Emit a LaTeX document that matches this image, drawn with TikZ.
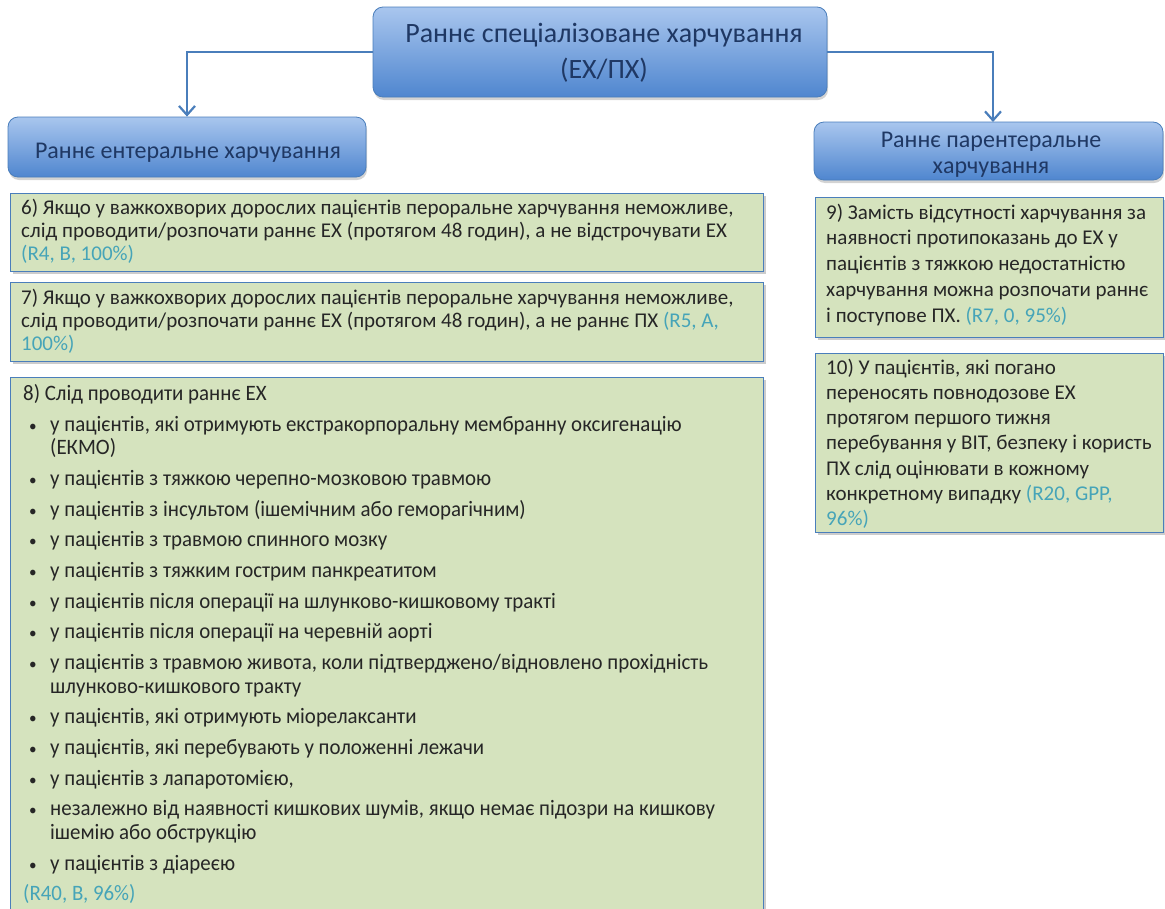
\documentclass[tikz,border=0pt]{standalone}
\usepackage{fontspec}
\setmainfont{Carlito}
\newfontfamily\narrowfont[FakeStretch=0.95]{Carlito}
\usetikzlibrary{arrows.meta,shadows}

\definecolor{hdrtop}{HTML}{A9C6EE}
\definecolor{hdrbot}{HTML}{4F86CF}
\definecolor{hdredge}{HTML}{4A7EBB}
\definecolor{hdrtext}{HTML}{1F3864}
\definecolor{boxfill}{HTML}{D5E3BE}
\definecolor{boxedge}{HTML}{4A7EBB}
\definecolor{bodytext}{HTML}{262626}
\definecolor{citecol}{HTML}{46A4B8}
\definecolor{linkcol}{HTML}{4A7EBB}

\newcommand{\refnote}[1]{\textcolor{citecol}{#1}}
\newcommand{\bitem}[1]{\makebox[27pt][l]{\hspace*{6pt}{\fontsize{16}{16}\selectfont•}}#1}
\newcommand{\bcont}[1]{\hspace*{27pt}#1}

\tikzset{
  hdrbox/.style={draw=hdredge, line width=0.8pt, rounded corners=10pt,
    top color=hdrtop, bottom color=hdrbot, text=hdrtext, align=center,
    drop shadow={opacity=0.35, shadow xshift=1pt, shadow yshift=-3pt}},
  greenbox/.style={draw=boxedge, line width=1.4pt, fill=boxfill,
    drop shadow={opacity=0.4, shadow xshift=2pt, shadow yshift=-2pt},
    anchor=north west, inner sep=0pt},
  boxtext/.style={anchor=base west, inner sep=0pt, text=bodytext},
  link/.style={draw=linkcol, line width=2.6pt,
    -{Straight Barb[length=9pt,width=16pt,line width=2.2pt]}}
}

\begin{document}
\begin{tikzpicture}[x=1pt,y=-1pt]
\useasboundingbox (0,0) rectangle (1165,908);

% header row
\node[hdrbox, minimum width=454pt, minimum height=90pt] (top) at (600,52) {};
\node[text=hdrtext, align=center, font=\fontsize{28}{36}\selectfont, inner sep=0pt]
  (toptext) at (604,53) {Раннє спеціалізоване харчування\\(ЕХ/ПХ)};
\node[hdrbox, minimum width=358pt, minimum height=60pt] (enteral) at (187,147) {};
\node[text=hdrtext, font=\fontsize{24}{28}\selectfont, inner sep=0pt]
  (enteraltext) at (188,153) {Раннє ентеральне харчування};
\node[hdrbox, minimum width=349pt, minimum height=58pt] (parent) at (988.5,151) {};
\node[text=hdrtext, align=center, font=\fontsize{24}{26}\selectfont, inner sep=0pt]
  (parenttext) at (991,155) {Раннє парентеральне\\харчування};

\coordinate (parentin) at (993,122);
\draw[link] (top.west) -| (enteral.north);
\draw[link] (top.east) -| (parentin);

% enteral column
\node[greenbox, minimum width=753pt, minimum height=78pt] (b6) at (10,193) {};
\node[boxtext] (t6) at (21,214.5) {\parbox[t]{740pt}{\raggedright\fontsize{21}{23}\selectfont
6) Якщо у важкохворих дорослих пацієнтів пероральне харчування неможливе,\\
слід проводити/розпочати раннє ЕХ (протягом 48 годин), а не відстрочувати ЕХ\\
\refnote{(R4, B, 100\%)}}};

\node[greenbox, minimum width=753pt, minimum height=79pt] (b7) at (10,282) {};
\node[boxtext] (t7) at (21,304) {\parbox[t]{740pt}{\raggedright\fontsize{21}{23}\selectfont
7) Якщо у важкохворих дорослих пацієнтів пероральне харчування неможливе,\\
слід проводити/розпочати раннє ЕХ (протягом 48 годин), а не раннє ПХ \refnote{(R5, A,}\\
\refnote{100\%)}}};

\node[greenbox, minimum width=753pt, minimum height=545pt] (b8) at (10,377) {};
\node[boxtext] (t8) at (23,400.5) {\parbox[t]{735pt}{\raggedright\narrowfont\fontsize{22}{23.5}\selectfont
8) Слід проводити раннє ЕХ\\[7.2pt]
\bitem{у пацієнтів, які отримують екстракорпоральну мембранну оксигенацію}\\
\bcont{(ЕКМО)}\\[7.2pt]
\bitem{у пацієнтів з тяжкою черепно-мозковою травмою}\\[7.2pt]
\bitem{у пацієнтів з інсультом (ішемічним або геморагічним)}\\[7.2pt]
\bitem{у пацієнтів з травмою спинного мозку}\\[7.2pt]
\bitem{у пацієнтів з тяжким гострим панкреатитом}\\[7.2pt]
\bitem{у пацієнтів після операції на шлунково-кишковому тракті}\\[7.2pt]
\bitem{у пацієнтів після операції на черевній аорті}\\[7.2pt]
\bitem{у пацієнтів з травмою живота, коли підтверджено/відновлено прохідність}\\
\bcont{шлунково-кишкового тракту}\\[7.2pt]
\bitem{у пацієнтів, які отримують міорелаксанти}\\[7.2pt]
\bitem{у пацієнтів, які перебувають у положенні лежачи}\\[7.2pt]
\bitem{у пацієнтів з лапаротомією,}\\[7.2pt]
\bitem{незалежно від наявності кишкових шумів, якщо немає підозри на кишкову}\\
\bcont{ішемію або обструкцію}\\[7.2pt]
\bitem{у пацієнтів з діареєю}\\[7.2pt]
\refnote{(R40, B, 96\%)}}};

% parenteral column
\node[greenbox, minimum width=348pt, minimum height=140pt] (b9) at (815,197) {};
\node[boxtext] (t9) at (826,219) {\parbox[t]{335pt}{\raggedright\fontsize{21}{25.8}\selectfont
9) Замість відсутності харчування за\\
наявності протипоказань до ЕХ у\\
пацієнтів з тяжкою недостатністю\\
харчування можна розпочати раннє\\
і поступове ПХ. \refnote{(R7, 0, 95\%)}}};

\node[greenbox, minimum width=348pt, minimum height=179pt] (b10) at (815,353) {};
\node[boxtext] (t10) at (826,374) {\parbox[t]{335pt}{\raggedright\fontsize{21}{25.3}\selectfont
10) У пацієнтів, які погано\\
переносять повнодозове ЕХ\\
протягом першого тижня\\
перебування у ВІТ, безпеку і користь\\
ПХ слід оцінювати в кожному\\
конкретному випадку \refnote{(R20, GPP,}\\
\refnote{96\%)}}};
\end{tikzpicture}
\end{document}
